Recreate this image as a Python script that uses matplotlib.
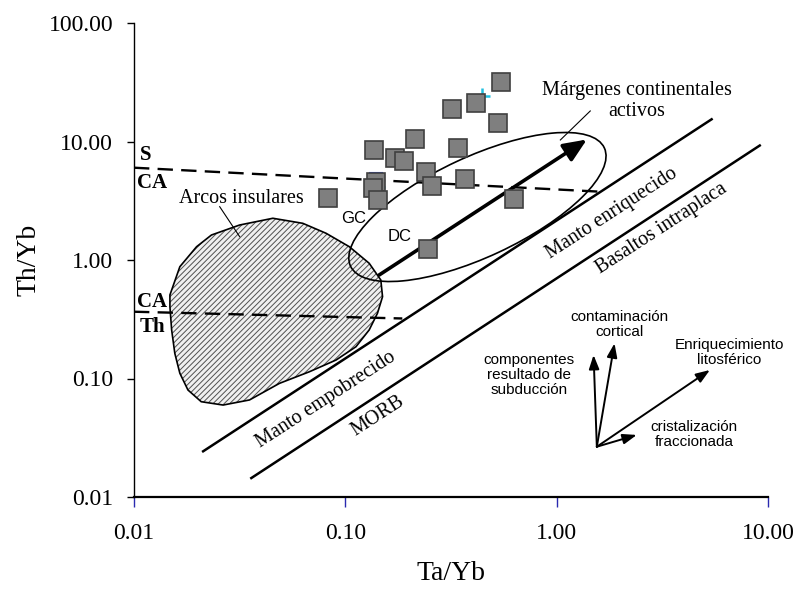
import matplotlib
matplotlib.use("Agg")
import matplotlib.pyplot as plt
from matplotlib.patches import Polygon, Ellipse, FancyArrowPatch
from matplotlib.transforms import ScaledTranslation
from matplotlib.ticker import FixedLocator, FixedFormatter, NullLocator

SERIF = "Liberation Serif"
SANS = "Liberation Sans"

plt.rcParams["hatch.linewidth"] = 0.7

# --- sample ratios (Ta/Yb, Th/Yb) ---
ta_yb = [0.5425, 0.415, 0.3206, 0.5268, 0.2138, 0.1363, 0.3422, 0.1727, 0.1894,
         0.2411, 0.368, 0.1396, 0.1345, 0.2581, 0.1434, 0.6268, 0.0832, 0.2463]
th_yb = [31.6, 21.3, 18.8, 14.4, 10.6, 8.56, 8.76, 7.23, 6.87,
         5.55, 4.81, 4.51, 4.05, 4.21, 3.21, 3.25, 3.34, 1.25]

# secondary markers mostly hidden behind the squares
plus_ta = [0.4453, 0.1416]
plus_th = [24.4, 4.13]
dash_ta = [0.1393]
dash_th = [5.39]

# --- axis ticks ---
x_ticks = [0.01, 0.1, 1, 10]
x_labels = ["0.01", "0.10", "1.00", "10.00"]
y_ticks = [0.01, 0.1, 1, 10, 100]
y_labels = ["0.01", "0.10", "1.00", "10.00", "100.00"]

# --- discrimination boundaries ---
s_ca_x = [0.01, 1.61]
s_ca_y = [6.01, 3.77]
ca_th_x = [0.01, 0.186]
ca_th_y = [0.366, 0.321]
enriched_x = [0.02124, 5.41]
enriched_y = [0.0243, 15.4]
morb_x = [0.0359, 9.14]
morb_y = [0.01445, 9.25]

# island-arc field outline
arc_x = [0.01479, 0.01648, 0.01977, 0.02325, 0.03162, 0.0454, 0.0629, 0.0811,
         0.1045, 0.1297, 0.1472, 0.150, 0.1419, 0.1297, 0.1123, 0.0904,
         0.0676, 0.0488, 0.0352, 0.0264, 0.0208, 0.0180, 0.01648, 0.0156,
         0.01507, 0.01479]
arc_y = [0.507, 0.878, 1.294, 1.625, 1.974, 2.25, 2.04, 1.68,
         1.294, 0.938, 0.678, 0.490, 0.355, 0.257, 0.1855, 0.1432,
         0.114, 0.0910, 0.0659, 0.0597, 0.0637, 0.080, 0.1107, 0.163,
         0.257, 0.404]

# active continental margin trend
trend_start = (0.1445, 0.747)
trend_end = (1.39, 10.4)
margin_center = (0.4217, 2.80)

# process vectors
vec_origin = (1.549, 0.02656)
vec_tips = [(1.495, 0.1578), (1.878, 0.198), (5.31, 0.118), (2.393, 0.0334)]

fig = plt.figure(figsize=(8.01, 5.92), dpi=100)
ax = fig.add_axes([134 / 801, 1 - 497 / 592, 634 / 801, 474 / 592])
ax.set_xscale("log")
ax.set_yscale("log")
ax.set_xlim(0.01, 10)
ax.set_ylim(0.01, 100)

for side in ("top", "right"):
    ax.spines[side].set_visible(False)
ax.spines["left"].set_linewidth(1.0)
ax.spines["bottom"].set_linewidth(1.6)

ax.xaxis.set_major_locator(FixedLocator(x_ticks))
ax.xaxis.set_major_formatter(FixedFormatter(x_labels))
ax.yaxis.set_major_locator(FixedLocator(y_ticks))
ax.yaxis.set_major_formatter(FixedFormatter(y_labels))
ax.xaxis.set_minor_locator(NullLocator())
ax.yaxis.set_minor_locator(NullLocator())
ax.tick_params(axis="x", direction="out", length=7, width=1.0, color="#2a2ab0",
               pad=12, labelsize=17)
ax.tick_params(axis="y", direction="out", length=5, width=1.0, color="black",
               pad=10, labelsize=17)
for lab in ax.get_xticklabels() + ax.get_yticklabels():
    lab.set_fontfamily(SERIF)

ax.set_xlabel("Ta/Yb", fontfamily=SERIF, fontsize=20, labelpad=12)
ax.set_ylabel("Th/Yb", fontfamily=SERIF, fontsize=20, labelpad=5)

# island-arc field: hatching then outline
ax.add_patch(Polygon(list(zip(arc_x, arc_y)), closed=True, facecolor="#f0f0f0",
                     edgecolor="#505050", hatch="//////", linewidth=0, zorder=1))
ax.add_patch(Polygon(list(zip(arc_x, arc_y)), closed=True, fill=False,
                     edgecolor="black", linewidth=1.2, zorder=2))

# tectonic boundaries
dash = (0, (6.5, 3.5))
ax.plot(s_ca_x, s_ca_y, color="black", lw=1.7, ls=dash, zorder=3)
ax.plot(ca_th_x, ca_th_y, color="black", lw=1.7, ls=dash, zorder=3)
ax.plot(enriched_x, enriched_y, color="black", lw=1.8, zorder=3)
ax.plot(morb_x, morb_y, color="black", lw=1.8, zorder=3)

# active continental margin field
ellipse_tr = fig.dpi_scale_trans + ScaledTranslation(*margin_center, ax.transData)
ax.add_patch(Ellipse((0, 0), width=2.8, height=1.0, angle=25, fill=False,
                     edgecolor="black", linewidth=1.2, transform=ellipse_tr,
                     zorder=3))
ax.add_patch(FancyArrowPatch(trend_start, trend_end,
                             arrowstyle="-|>,head_length=0.7,head_width=0.3",
                             mutation_scale=20, color="black", lw=2.6,
                             shrinkA=0, shrinkB=0, zorder=4))

# samples
ax.plot(dash_ta, dash_th, ls="none", marker="_", ms=10, mew=1.5,
        color="#2040ff", zorder=4)
ax.plot(plus_ta, plus_th, ls="none", marker="+", ms=12, mew=1.8,
        color="#20c0e0", zorder=4)
ax.plot(ta_yb, th_yb, ls="none", marker="s", ms=13.5, mfc="#7f7f7f",
        mec="#404040", mew=1.2, zorder=5)

# field labels
serif_kw = dict(fontfamily=SERIF, fontsize=14.5, color="black")
ax.text(0.0322, 3.32, "Arcos insulares", ha="center", va="center", zorder=6,
        **serif_kw)
ax.plot([0.02544, 0.03162], [2.818, 1.573], color="black", lw=0.8, zorder=6)
ax.text(2.40, 21.9, "Márgenes continentales\nactivos", ha="center",
        va="center", linespacing=1.15, zorder=6, **serif_kw)
ax.plot([1.442, 1.041], [18.1, 10.3], color="black", lw=0.8, zorder=6)

rot_kw = dict(rotation=33, rotation_mode="anchor", ha="center", va="center",
              zorder=6, **serif_kw)
ax.text(0.0813, 0.0655, "Manto empobrecido", **rot_kw)
ax.text(0.1428, 0.0484, "MORB", **rot_kw)
ax.text(1.817, 2.48, "Manto enriquecido", **rot_kw)
ax.text(3.13, 1.834, "Basaltos intraplaca", **rot_kw)

bold_kw = dict(fontfamily=SERIF, fontsize=15, fontweight="bold", ha="left",
               va="center", zorder=6)
ax.text(0.01067, 7.69, "S", **bold_kw)
ax.text(0.01036, 4.44, "CA", **bold_kw)
ax.text(0.01036, 0.4446, "CA", **bold_kw)
ax.text(0.01062, 0.2735, "Th", **bold_kw)

sans_kw = dict(fontfamily=SANS, fontsize=12, ha="center", va="center", zorder=6)
ax.text(0.1091, 2.25, "GC", **sans_kw)
ax.text(0.1811, 1.573, "DC", **sans_kw)

# process vectors
for tip in vec_tips:
    ax.add_patch(FancyArrowPatch(vec_origin, tip,
                                 arrowstyle="-|>,head_length=0.6,head_width=0.22",
                                 mutation_scale=14, color="black", lw=1.4,
                                 shrinkA=0, shrinkB=0, zorder=6))

vec_kw = dict(fontfamily=SANS, fontsize=11, ha="center", va="center",
              linespacing=1.1, zorder=6)
ax.text(1.977, 0.2844, "contaminación\ncortical", **vec_kw)
ax.text(6.55, 0.1656, "Enriquecimiento\nlitosférico", **vec_kw)
ax.text(0.738, 0.1064, "componentes\nresultado de\nsubducción", **vec_kw)
ax.text(4.48, 0.0339, "cristalización\nfraccionada", **vec_kw)

fig.savefig("out.png", dpi=100)
